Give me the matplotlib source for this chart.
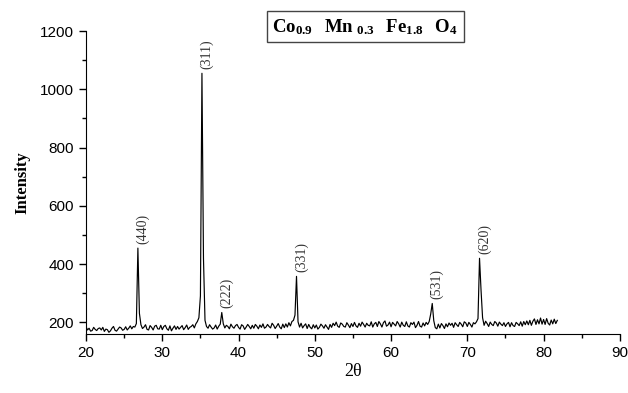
import numpy as np
import matplotlib
matplotlib.use('Agg')
import matplotlib.pyplot as plt
from matplotlib.ticker import MultipleLocator

plt.rcParams['mathtext.fontset'] = 'custom'
plt.rcParams['mathtext.rm'] = 'Liberation Serif'
plt.rcParams['mathtext.bf'] = 'Liberation Serif:bold'

# scan grid, 0.2 deg steps from 20 to 81.8
two_theta = np.linspace(20.0, 81.8, 310)

intensity = [
    185, 174, 180, 170, 172, 183, 176, 172, 179, 181,
    174, 183, 169, 177, 175, 166, 171, 180, 186, 173,
    170, 177, 184, 181, 173, 176, 185, 174, 180, 188,
    178, 186, 184, 196, 455, 231, 192, 179, 184, 192,
    176, 174, 189, 183, 174, 187, 190, 178, 177, 190,
    175, 186, 190, 178, 173, 188, 171, 180, 188, 176,
    186, 177, 183, 189, 175, 182, 191, 176, 183, 186,
    192, 181, 195, 203, 216, 291, 1055, 420, 207, 186,
    180, 192, 184, 177, 181, 191, 177, 187, 194, 234,
    195, 181, 190, 186, 178, 194, 185, 180, 189, 193,
    183, 177, 192, 188, 176, 184, 193, 186, 178, 190,
    180, 193, 187, 178, 191, 183, 195, 180, 184, 193,
    186, 181, 197, 190, 179, 187, 196, 184, 178, 194,
    182, 195, 184, 199, 188, 203, 207, 225, 358, 202,
    184, 197, 181, 189, 195, 179, 193, 183, 178, 192,
    181, 191, 177, 183, 194, 188, 180, 192, 184, 176,
    193, 183, 197, 189, 201, 187, 183, 198, 194, 186,
    184, 199, 191, 182, 196, 186, 200, 188, 183, 197,
    187, 201, 193, 184, 197, 190, 188, 202, 184, 195,
    200, 186, 203, 195, 184, 199, 205, 187, 191, 201,
    185, 200, 194, 188, 203, 195, 184, 201, 190, 186,
    202, 188, 184, 199, 193, 201, 182, 190, 203, 187,
    184, 198, 188, 200, 193, 203, 229, 265, 206, 182,
    178, 194, 181, 196, 189, 179, 195, 185, 198, 190,
    197, 183, 199, 192, 186, 200, 194, 185, 202, 198,
    186, 200, 193, 184, 199, 195, 202, 213, 420, 310,
    216, 190, 204, 196, 186, 201, 193, 189, 203, 198,
    187, 201, 194, 189, 199, 186, 195, 200, 185, 199,
    189, 186, 200, 195, 189, 202, 187, 203, 192, 205,
    192, 207, 190, 204, 212, 193, 209, 195, 215, 194,
    210, 193, 213, 197, 191, 208, 195, 211, 196, 207,
]

peak_pos = [26.8, 35.2, 37.8, 47.6, 65.4, 71.6]
peak_height = [455, 1055, 234, 358, 265, 420]
peak_hkl = ['(440)', '(311)', '(222)', '(331)', '(531)', '(620)']

fig = plt.figure(figsize=(6.28, 3.93), dpi=100)
ax = fig.add_axes([0.137, 0.150, 0.850, 0.771])

ax.plot(two_theta, intensity, color='black', lw=0.85)

for xp, yp, lab in zip(peak_pos, peak_height, peak_hkl):
    ax.annotate(lab, (xp, yp), xytext=(3.5, 3), textcoords='offset points',
                rotation=90, ha='center', va='bottom', fontsize=10,
                family='Liberation Serif', color='#333333')

ax.set_xlim(20, 90)
ax.set_ylim(160, 1200)
ax.xaxis.set_major_locator(MultipleLocator(10))
ax.xaxis.set_minor_locator(MultipleLocator(5))
ax.yaxis.set_major_locator(MultipleLocator(200))
ax.yaxis.set_minor_locator(MultipleLocator(100))
ax.spines['top'].set_visible(False)
ax.spines['right'].set_visible(False)
ax.tick_params(which='both', direction='out', width=1)
ax.tick_params(which='major', length=5, labelsize=11)
ax.tick_params(which='minor', length=3)
for lbl in ax.get_xticklabels() + ax.get_yticklabels():
    lbl.set_family('Liberation Sans')

ax.set_xlabel('2θ', family='Liberation Serif', fontsize=13, labelpad=2)
ax.set_ylabel('Intensity', family='Liberation Serif', fontweight='bold',
              fontsize=12, labelpad=7)

ax.text(56.6, 1214, r'$\mathbf{Co_{0.9}\ \ Mn_{\ 0.3}\ \ Fe_{1.8}\ \ O_4}$',
        ha='center', va='center', fontsize=13.5, clip_on=False,
        bbox=dict(boxstyle='square,pad=0.3', fc='white', ec='#444444', lw=1))

fig.savefig('out.png', dpi=100)
